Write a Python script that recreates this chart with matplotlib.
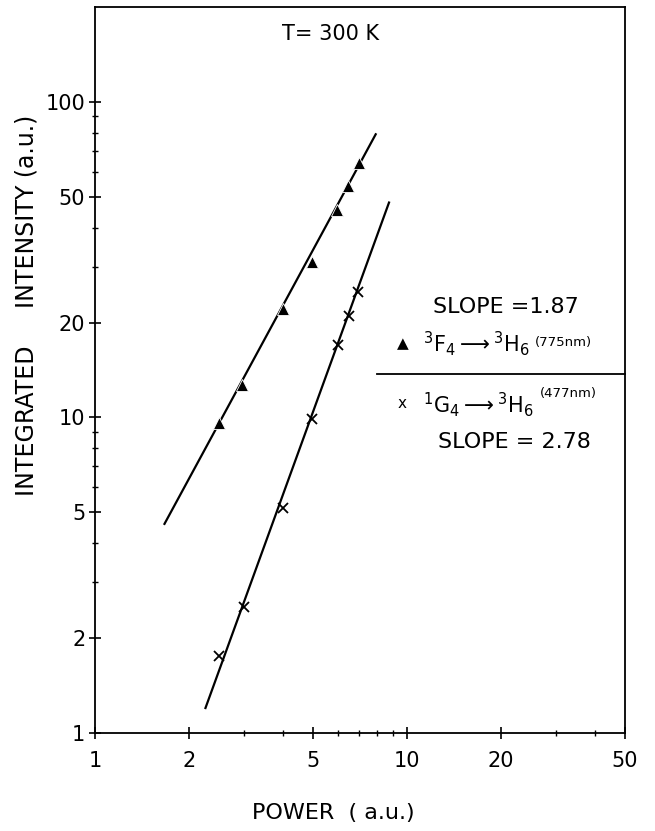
import numpy as np
from matplotlib import pyplot as plt

power_f = [2.5, 2.95, 4.0, 4.95, 5.95, 6.45, 7.0]
intensity_f = [9.6, 12.7, 22, 31, 45.5, 54, 64]
fit_f_x = [1.67, 7.94]
fit_f_y = [4.6, 79]

power_g = [2.5, 3.0, 4.0, 4.95, 6.0, 6.5, 6.95]
intensity_g = [1.75, 2.5, 5.15, 9.9, 17, 21, 25]
fit_g_x = [2.26, 8.76]
fit_g_y = [1.2, 48]

x_ticks = [1, 2, 5, 10, 20, 50]
x_minor = [3, 4, 6, 7, 8, 9, 30, 40]
y_ticks = [1, 2, 5, 10, 20, 50, 100]
y_minor = [3, 4, 6, 7, 8, 9, 30, 40, 60, 70, 80, 90]

plt.rcParams['font.family'] = 'DejaVu Sans'
plt.rcParams['mathtext.default'] = 'regular'

W, H = 655, 831
fig = plt.figure(figsize=(W / 100, H / 100), dpi=100)
ax = fig.add_axes([95 / W, (H - 733) / H, 530 / W, 726 / H])


def fx(px):
    return px / W


def fy(py):
    return 1 - py / H


ax.plot(fit_f_x, fit_f_y, color='black', lw=1.6)
ax.plot(fit_g_x, fit_g_y, color='black', lw=1.6)
ax.plot(power_f, intensity_f, ls='none', marker='^', ms=9,
        color='black', mec='white', mew=0.6)
ax.plot(power_g, intensity_g, ls='none', marker='x', ms=7,
        color='black', mew=1.3)

ax.set_xscale('log')
ax.set_yscale('log')
ax.set_xlim(1, 50)
ax.set_ylim(1, 200)

ax.set_xticks(x_ticks)
ax.set_xticklabels([str(t) for t in x_ticks])
ax.set_xticks(x_minor, minor=True)
ax.set_xticklabels([], minor=True)
ax.set_yticks(y_ticks)
ax.set_yticklabels([str(t) for t in y_ticks])
ax.set_yticks(y_minor, minor=True)
ax.set_yticklabels([], minor=True)

ax.tick_params(which='major', direction='inout', length=8, width=1.2,
               labelsize=15)
ax.tick_params(which='minor', direction='inout', length=5, width=1.0)
ax.tick_params(axis='x', which='major', pad=9)
ax.tick_params(axis='y', which='major', pad=3)
for s in ax.spines.values():
    s.set_linewidth(1.3)

# labels
fig.text(fx(333), fy(813), 'POWER  ( a.u.)', ha='center', va='center',
         fontsize=16)
fig.text(fx(27), fy(305), 'INTEGRATED     INTENSITY (a.u.)', rotation=90,
         ha='center', va='center', fontsize=17)
fig.text(fx(331), fy(34), 'T= 300 K', ha='center', va='center', fontsize=15)

# legend block
fig.text(fx(506), fy(307), 'SLOPE =1.87', ha='center', va='center',
         fontsize=16)
fig.text(fx(403), fy(344), '\u25B2', ha='center', va='center', fontsize=11)
t_f = fig.text(fx(423), fy(344), r'$^3$F$_4$$\longrightarrow$$^3$H$_6$',
               ha='left', va='center', fontsize=15)
ax.annotate('(775nm)', xy=(1, 0.55), xycoords=t_f, xytext=(4, 0),
            textcoords='offset points', ha='left', va='center', fontsize=9.5)

ax.plot([(377 - 95) / 530, 1.0], [(733 - 374) / 726] * 2,
        transform=ax.transAxes, color='black', lw=1.3, clip_on=False)

fig.text(fx(402), fy(404), 'x', ha='center', va='center', fontsize=11)
t_g = fig.text(fx(423), fy(405), r'$^1$G$_4$$\longrightarrow$$^3$H$_6$',
               ha='left', va='center', fontsize=15)
ax.annotate('(477nm)', xy=(1, 0.9), xycoords=t_g, xytext=(4, 0),
            textcoords='offset points', ha='left', va='center', fontsize=9.5)
fig.text(fx(514), fy(442), 'SLOPE = 2.78', ha='center', va='center',
         fontsize=16)

fig.savefig('out.png', dpi=100)
